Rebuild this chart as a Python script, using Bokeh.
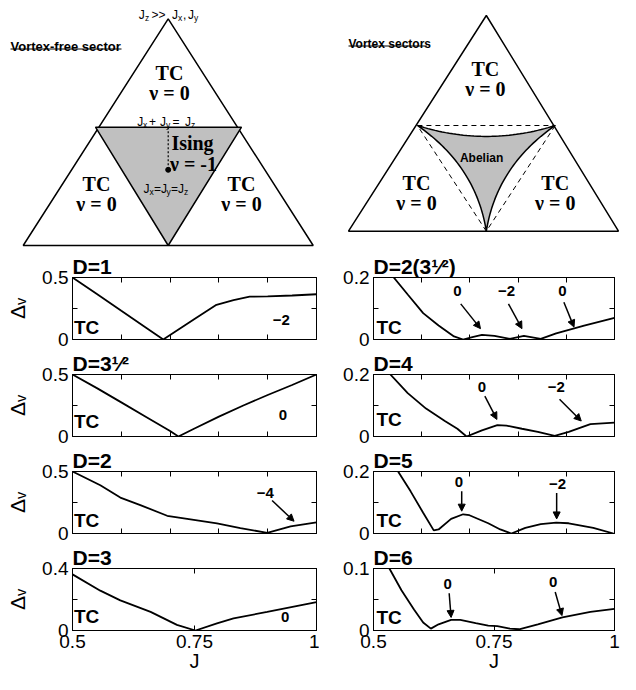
import numpy as np
from bokeh.plotting import figure
from bokeh.layouts import column, row
from bokeh.models import (Range1d, FixedTicker, LinearAxis, Label, Arrow,
                          NormalHead, NumeralTickFormatter)
from bokeh.core.properties import value
from bokeh.embed import file_html
from bokeh.resources import INLINE

SANS = "Liberation Sans"
SERIF = "Liberation Serif"

# ---------------- panel data (J, Delta_V) ----------------
J_D1 = [0.5, 0.55, 0.6, 0.65, 0.686, 0.70, 0.75, 0.795, 0.83, 0.863, 0.9, 0.95, 1.0]
DV_D1 = [0.5, 0.366, 0.231, 0.097, 0.0, 0.036, 0.165, 0.28, 0.318, 0.345, 0.348, 0.355, 0.365]

J_DR3 = [0.5, 0.55, 0.6, 0.65, 0.7, 0.717, 0.75, 0.8, 0.85, 0.9, 0.95, 1.0]
DV_DR3 = [0.5, 0.39, 0.275, 0.16, 0.045, 0.0, 0.065, 0.16, 0.25, 0.335, 0.415, 0.5]

J_D2 = [0.5, 0.557, 0.598, 0.639, 0.694, 0.735, 0.796, 0.844, 0.899, 0.947, 1.0]
DV_D2 = [0.5, 0.389, 0.29, 0.229, 0.143, 0.118, 0.081, 0.044, 0.005, 0.057, 0.089]

J_D3 = [0.5, 0.557, 0.598, 0.66, 0.714, 0.752, 0.796, 0.83, 0.899, 1.0]
DV_D3 = [0.362, 0.257, 0.194, 0.12, 0.036, 0.0, 0.046, 0.078, 0.12, 0.183]

J_D2R3 = [0.542, 0.571, 0.603, 0.635, 0.667, 0.686, 0.705, 0.725, 0.751, 0.783, 0.812, 0.847, 0.879, 0.937, 1.0]
DV_D2R3 = [0.2, 0.145, 0.085, 0.045, 0.01, 0.0, 0.008, 0.015, 0.012, 0.002, 0.012, 0.002, 0.02, 0.045, 0.07]

J_D4 = [0.535, 0.571, 0.609, 0.648, 0.674, 0.693, 0.725, 0.757, 0.776, 0.808, 0.841, 0.876, 0.905, 0.95, 1.0]
DV_D4 = [0.2, 0.14, 0.09, 0.05, 0.025, 0.0, 0.02, 0.037, 0.035, 0.025, 0.015, 0.002, 0.015, 0.04, 0.045]

J_D5 = [0.551, 0.577, 0.603, 0.625, 0.635, 0.661, 0.686, 0.699, 0.738, 0.763, 0.786, 0.815, 0.847, 0.879, 0.905, 0.956, 0.998]
DV_D5 = [0.2, 0.136, 0.067, 0.01, 0.013, 0.047, 0.062, 0.059, 0.033, 0.013, 0.0, 0.018, 0.03, 0.035, 0.033, 0.018, 0.0]

J_D6 = [0.533, 0.558, 0.584, 0.603, 0.619, 0.635, 0.661, 0.68, 0.712, 0.738, 0.757, 0.783, 0.802, 0.841, 0.892, 0.95, 1.0]
DV_D6 = [0.1, 0.065, 0.034, 0.013, 0.003, 0.01, 0.017, 0.017, 0.012, 0.008, 0.007, 0.003, 0.002, 0.01, 0.021, 0.03, 0.035]

# panel titles
TITLES_L = ["D=1", "D=3\u00b9\u2044\u00b2", "D=2", "D=3"]
TITLES_R = ["D=2(3\u00b9\u2044\u00b2)", "D=4", "D=5", "D=6"]
YMAX_L = [0.5, 0.5, 0.5, 0.4]
YMAX_R = [0.2, 0.2, 0.2, 0.1]
TC_Y_L = [0.098, 0.123, 0.106, 0.093]
TC_Y_R = [0.04, 0.055, 0.042, 0.021]

# winding-number notes: (label, J, Delta)
NOTES_L = [[("\u22122", 0.928, 0.158)],
           [("0", 0.931, 0.177)],
           [("\u22124", 0.895, 0.328)],
           [("0", 0.936, 0.088)]]
NOTES_R = [[("0", 0.674, 0.155), ("\u22122", 0.776, 0.155), ("0", 0.892, 0.155)],
           [("0", 0.725, 0.16), ("\u22122", 0.879, 0.16)],
           [("0", 0.677, 0.166), ("\u22122", 0.882, 0.161)],
           [("0", 0.654, 0.075), ("0", 0.873, 0.079)]]
# arrows: (J0, D0, J1, D1)
ARROWS_L = [[], [], [(0.909, 0.266, 0.954, 0.099)], []]
ARROWS_R = [[(0.681, 0.115, 0.722, 0.035), (0.780, 0.115, 0.808, 0.035), (0.895, 0.12, 0.916, 0.04)],
            [(0.731, 0.13, 0.756, 0.055), (0.886, 0.12, 0.931, 0.05)],
            [(0.683, 0.136, 0.683, 0.072), (0.88, 0.131, 0.88, 0.047)],
            [(0.657, 0.06, 0.661, 0.021), (0.877, 0.062, 0.891, 0.024)]]

CURVES_L = [(J_D1, DV_D1), (J_DR3, DV_DR3), (J_D2, DV_D2), (J_D3, DV_D3)]
CURVES_R = [(J_D2R3, DV_D2R3), (J_D4, DV_D4), (J_D5, DV_D5), (J_D6, DV_D6)]

XTICKS_INNER = [0.6, 0.7, 0.8, 0.9]
XTICKS_BOTTOM = [0.5, 0.75, 1.0]


def add_axis(p, loc, majors, minors, labels):
    ax = LinearAxis(ticker=FixedTicker(ticks=majors, minor_ticks=minors),
                    formatter=NumeralTickFormatter(format="0.[00]"))
    ax.major_tick_in = 5
    ax.major_tick_out = 0
    ax.minor_tick_in = 5
    ax.minor_tick_out = 0
    ax.axis_line_color = "black"
    ax.major_tick_line_color = "black"
    ax.minor_tick_line_color = "black"
    ax.major_label_text_font = SANS
    ax.major_label_text_font_size = "19px"
    ax.major_label_text_color = "black"
    ax.major_label_standoff = 4 if labels else 0
    p.add_layout(ax, loc)
    return ax


def make_panel(col, i, bottom):
    lb, fw, rb = (72, 244, 3) if col == 0 else (54, 241, 6)
    tb, fh = 24, 63
    bb = 44 if bottom else 10
    ymax = (YMAX_L if col == 0 else YMAX_R)[i]
    J, dv = (CURVES_L if col == 0 else CURVES_R)[i]
    p = figure(width=lb + fw + rb, height=tb + fh + bb,
               x_range=Range1d(0.5, 1.0), y_range=Range1d(0, ymax),
               x_axis_type=None, y_axis_type=None,
               output_backend="svg", toolbar_location=None,
               min_border_left=lb, min_border_right=rb,
               min_border_top=tb, min_border_bottom=bb,
               title=(TITLES_L if col == 0 else TITLES_R)[i])
    p.outline_line_color = "black"
    p.background_fill_color = "white"
    p.border_fill_color = "white"
    p.title.align = "left"
    p.title.text_font = SANS
    p.title.text_font_size = "21px"
    p.title.text_font_style = "bold"
    p.title.text_color = "black"
    p.title.standoff = 0
    p.title.offset = 0

    yl = add_axis(p, "left", [0, ymax], [ymax / 2], True)
    add_axis(p, "right", [], [0, ymax / 2, ymax], False)
    xt = XTICKS_BOTTOM if bottom else XTICKS_INNER
    if bottom:
        xb = add_axis(p, "below", xt, [], True)
        xb.axis_label = "J"
        xb.axis_label_text_font = SANS
        xb.axis_label_text_font_size = "20px"
        xb.axis_label_text_font_style = "normal"
        xb.axis_label_text_color = "black"
        xb.axis_label_standoff = -1
    else:
        add_axis(p, "below", [], xt, False)
    add_axis(p, "above", [], xt, False)
    if col == 0:
        yl.axis_label = "\u0394\u1d65"
        yl.axis_label_text_font = SANS
        yl.axis_label_text_font_size = "21px"
        yl.axis_label_text_font_style = "normal"
        yl.axis_label_text_color = "black"
        yl.axis_label_standoff = 10

    p.line(J, dv, line_color="black", line_width=1.8)

    tcy = (TC_Y_L if col == 0 else TC_Y_R)[i]
    p.add_layout(Label(x=0.503 if col == 0 else 0.506, y=tcy, text="TC", text_font=SANS,
                       text_font_size="19px", text_font_style="bold", text_align="left",
                       text_baseline="middle", text_color="black"))
    for (s, xx, yy) in (NOTES_L if col == 0 else NOTES_R)[i]:
        p.add_layout(Label(x=xx, y=yy, text=s, text_font=SANS, text_font_size="15px",
                           text_font_style="bold", text_align="center",
                           text_baseline="middle", text_color="black"))
    for (x0, y0, x1, y1) in (ARROWS_L if col == 0 else ARROWS_R)[i]:
        p.add_layout(Arrow(end=NormalHead(size=7, fill_color="black", line_color="black"),
                           x_start=x0, y_start=y0, x_end=x1, y_end=y1,
                           line_color="black", line_width=1.5))
    return p


# ---------------- phase-diagram schematics ----------------
TOP_H = 252
TRI1_OUT_X = [167.7, 22.7, 312.7]
TRI1_OUT_Y = [18.3, 245.0, 245.0]
TRI1_IN_X = [95.0, 241.0, 167.7]
TRI1_IN_Y = [126.7, 126.7, 245.0]

# right schematic in reference pixels, squeezed horizontally to fit
SQ0, SQK = 348.0, 0.944
TRI2_OUT_X = [494.0, 348.0, 634.0]
TRI2_OUT_Y = [15.0, 230.7, 230.7]
TRI2_IN_X = [421.0, 567.0, 494.0]
TRI2_IN_Y = [125.0, 125.0, 230.7]
ABELIAN_BOW = [0.62, 0.70, 0.70]

GRAY = "#c0c0c0"


def sq(x):
    return SQ0 + (np.asarray(x, dtype=float) - SQ0) * SQK


def blank_fig(x0, x1, y0, y1):
    p = figure(width=int(x1 - x0), height=int(y1 - y0),
               x_range=Range1d(x0, x1), y_range=Range1d(y1, y0),
               x_axis_type=None, y_axis_type=None,
               output_backend="svg", toolbar_location=None,
               min_border=0)
    p.outline_line_color = None
    p.background_fill_color = "white"
    p.border_fill_color = "white"
    return p


def txt(p, xs, ys, texts, size, font=SANS, style="normal", align="left", baseline="alphabetic"):
    p.text(x=list(xs), y=list(ys), text=texts, text_font=value(font), text_font_size=size,
           text_font_style=style, text_align=align, text_baseline=baseline, text_color="black")


def sub_text(p, pieces, base, size=12, sub=8.5, drop=3.5):
    for s, x, is_sub in pieces:
        if is_sub:
            txt(p, [x], [base + drop], [s], f"{sub}px")
        else:
            txt(p, [x], [base], [s], f"{size}px")


def tc_nu(p, x, y, dy=20):
    txt(p, [x], [y], ["TC"], "20px", SERIF, "bold", "center", "middle")
    txt(p, [x], [y + dy], ["\u03bd = 0"], "20px", SERIF, "bold", "center", "middle")


# left schematic
t1 = blank_fig(0, 319, 0, TOP_H)
t1.patch(TRI1_OUT_X, TRI1_OUT_Y, fill_color=None, line_color="black", line_width=1.5)
t1.patch(TRI1_IN_X, TRI1_IN_Y, fill_color=GRAY, line_color="black", line_width=1.5)
t1.line([TRI1_OUT_X[0], TRI1_OUT_X[0]], [TRI1_IN_Y[0], 169.3], line_color="black",
        line_width=1.2, line_dash="2 2")
t1.scatter([TRI1_OUT_X[0]], [169.3], size=5, color="black")
sub_text(t1, [("J", 138.3, False), ("z", 144.5, True), (">>", 151, False), ("J", 171.5, False),
              ("x", 177.5, True), (",", 182.5, False), ("J", 187.5, False), ("y", 193.5, True)], 14)
sub_text(t1, [("J", 136.7, False), ("x", 142.5, True), ("+", 148.5, False), ("J", 159.5, False),
              ("y", 165.5, True), ("=", 172, False), ("J", 184.5, False), ("z", 190.5, True)], 121)
sub_text(t1, [("J", 143, False), ("x", 149, True), ("=", 153.5, False), ("J", 160.5, False),
              ("y", 166, True), ("=", 170.5, False), ("J", 177.5, False), ("z", 183.5, True)], 188)
txt(t1, [10], [46], ["Vortex-free sector"], "13px", SANS, "bold")
t1.line([10, 121], [48.5, 48.5], line_color="black", line_width=1)
tc_nu(t1, 169, 72)
tc_nu(t1, 96, 183)
tc_nu(t1, 241, 183)
txt(t1, [192], [142], ["Ising"], "20px", SERIF, "bold", "center", "middle")
txt(t1, [193], [163], ["\u03bd = -1"], "20px", SERIF, "bold", "center", "middle")

# right schematic
t2 = blank_fig(319, 620, 0, TOP_H)
t2.patch(sq(TRI2_OUT_X), TRI2_OUT_Y, fill_color=None, line_color="black", line_width=1.5)
V = np.array([sq(TRI2_IN_X), TRI2_IN_Y]).T
G = V.mean(axis=0)
tt = np.linspace(0, 1, 40)[:, None]
pts = []
for k in range(3):
    a, b = V[k], V[(k + 1) % 3]
    m = (a + b) / 2
    c = m + ABELIAN_BOW[k] * (G - m)
    pts.append((1 - tt) ** 2 * a + 2 * (1 - tt) * tt * c + tt ** 2 * b)
pts = np.vstack(pts)
t2.patch(pts[:, 0], pts[:, 1], fill_color=GRAY, line_color="black", line_width=1.5)
for k in range(3):
    a, b = V[k], V[(k + 1) % 3]
    t2.line([a[0], b[0]], [a[1], b[1]], line_color="black", line_width=1, line_dash="5 4")
txt(t2, sq([348]), [43], ["Vortex sectors"], "12px", SANS, "bold")
t2.line(sq([348, 431]), [45.5, 45.5], line_color="black", line_width=1)
tc_nu(t2, sq(493), 68)
tc_nu(t2, sq(420), 182)
tc_nu(t2, sq(567), 182)
txt(t2, sq([489]), [157], ["Abelian"], "12px", SANS, "bold", "center", "middle")

rows = [row(t1, t2)]
for i in range(4):
    rows.append(row(make_panel(0, i, i == 3), make_panel(1, i, i == 3)))
layout = column(*rows)

open("out.html", "w").write(file_html(layout, INLINE))
